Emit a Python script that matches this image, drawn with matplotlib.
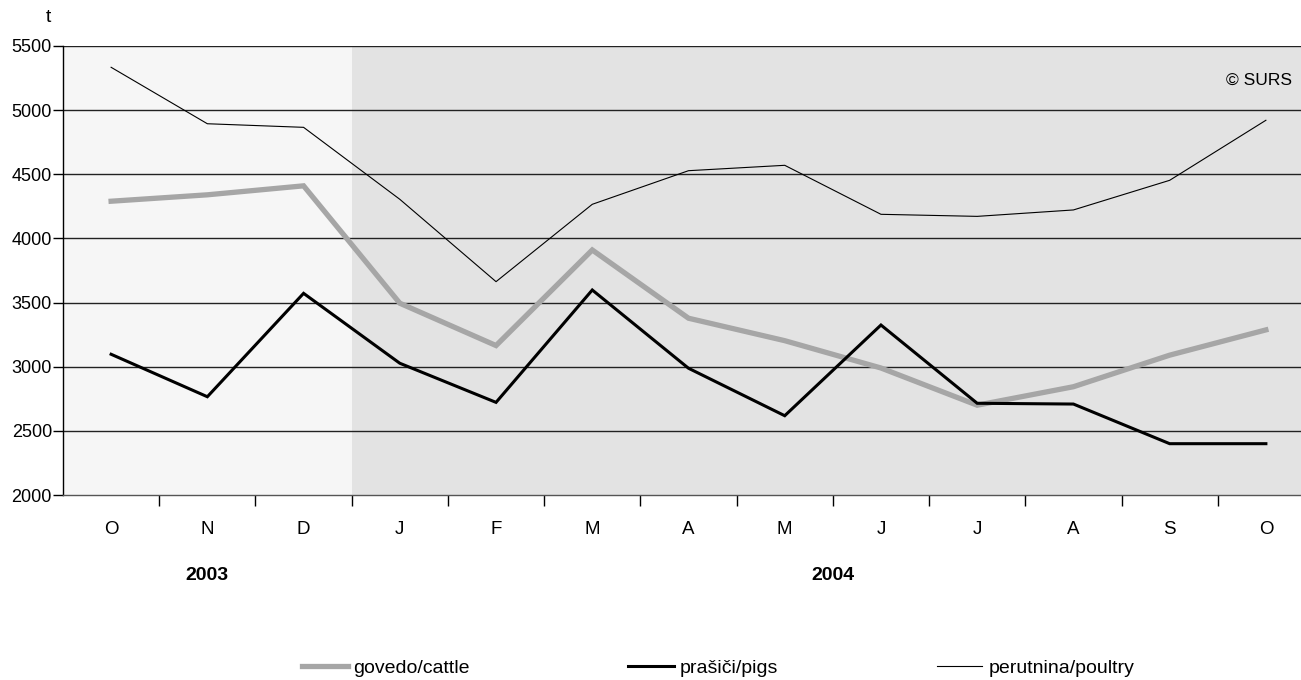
import numpy as np
import matplotlib.pyplot as plt
from matplotlib.lines import Line2D
from matplotlib.transforms import blended_transform_factory

plt.rcParams['font.family'] = ['Liberation Sans', 'DejaVu Sans']

months = ['O', 'N', 'D', 'J', 'F', 'M', 'A', 'M', 'J', 'J', 'A', 'S', 'O']
cattle = [4290, 4340, 4410, 3495, 3165, 3910, 3378, 3203, 2990, 2700, 2844, 3090, 3287]
pigs = [3097, 2766, 3572, 3027, 2722, 3598, 2988, 2618, 3325, 2715, 2709, 2400, 2400]
poultry = [5334, 4894, 4866, 4305, 3663, 4266, 4528, 4570, 4188, 4172, 4222, 4453, 4921]
years = ['2003', '2004']
year_pos = [1, 7.5]

x = np.arange(len(months))

fig = plt.figure(figsize=(13.01, 6.8), dpi=100)
# axes runs slightly past the right edge of the image, as in the original
ax = fig.add_axes([63/1301, 1-495/680, 1251/1301, 449/680])

ax.axvspan(-0.5, 2.5, color='#f6f6f6', zorder=0, lw=0)
ax.axvspan(2.5, 12.5, color='#e3e3e3', zorder=0, lw=0)
for v in range(2500, 5501, 500):
    ax.axhline(v, color='#222222', lw=1.0, zorder=1)

ax.plot(x, cattle, color='#a6a6a6', lw=3.8, zorder=3, solid_joinstyle='miter')
ax.plot(x, pigs, color='black', lw=2.2, zorder=4, solid_joinstyle='miter')
ax.plot(x, poultry, color='black', lw=0.8, zorder=5)

ax.set_xlim(-0.5, 12.5)
ax.set_ylim(2000, 5500)
ax.set_yticks(range(2000, 5501, 500))
ax.tick_params(axis='y', length=7, width=1, pad=1, labelsize=13)
ax.set_xticks(x)
ax.set_xticklabels(months)
ax.tick_params(axis='x', which='major', length=0, pad=19, labelsize=13.5)
ax.set_xticks(np.arange(0.5, 12.5, 1), minor=True)
ax.tick_params(axis='x', which='minor', length=8, width=1)

for s in ['top', 'right']:
    ax.spines[s].set_visible(False)
ax.spines['left'].set_linewidth(1)
ax.spines['bottom'].set_linewidth(1)
ax.spines['bottom'].set_color('#555555')

trans = blended_transform_factory(ax.transData, ax.transAxes)
for yr, xp in zip(years, year_pos):
    ax.text(xp, -0.18, yr, transform=trans, ha='center', va='center',
            fontsize=14, fontweight='bold')

ax.text(1229/1251, 0.924, '© SURS', transform=ax.transAxes, ha='right', va='center', fontsize=12.5)
fig.text(48/1301, 1-18/680, 't', ha='center', va='center', fontsize=14)

handles = [Line2D([], [], color='#a6a6a6', lw=3.8),
           Line2D([], [], color='black', lw=2.2),
           Line2D([], [], color='black', lw=0.8)]
labels = ['govedo/cattle', 'prašiči/pigs', 'perutnina/poultry']
fig.legend(handles, labels, ncol=3, loc='center', bbox_to_anchor=(718/1301, 1-668/680),
           frameon=False, fontsize=14, handlelength=2.35, handletextpad=0.3,
           columnspacing=8.15)

fig.savefig('out.png', dpi=100)
